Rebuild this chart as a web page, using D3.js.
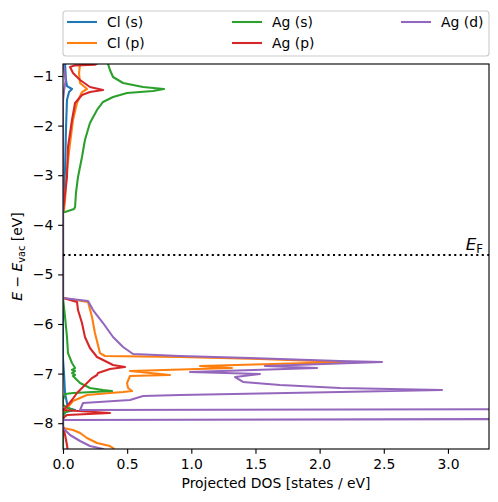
<!DOCTYPE html>
<html><head><meta charset="utf-8">
<script src="https://cdn.jsdelivr.net/npm/d3@7"></script>
<style>body{margin:0;background:#fff} text{font-family:"DejaVu Sans",sans-serif;fill:#000}</style>
</head><body><svg id="c" width="498" height="502"></svg>
<script>
// Each series: [dos, energy] pairs in drawing order
const clS = [[0.016,-0.70],[0.016,-0.758],[0.023,-1.081],[0.031,-1.202],[0.070,-1.262],[0.047,-1.323],[0.031,-1.484],[0.023,-2.089],[0.016,-2.895],[0.008,-3.601],[0,-3.742],
  [0,-5.48],[0,-6.7],[0.008,-7.0],[0.016,-7.4],[0.039,-7.694],[0.094,-7.734],[0.016,-7.774],[0,-7.935],[0,-8.6]];
const clP = [[0.14,-0.70],[0.133,-0.758],[0.125,-0.940],[0.133,-1.141],[0.187,-1.262],[0.148,-1.323],[0.109,-1.544],[0.078,-1.887],[0.055,-2.351],[0.031,-2.895],[0.016,-3.500],[0.008,-3.702],[0,-3.742],
  [0,-5.476],[0.195,-5.556],[0.226,-5.859],[0.249,-6.181],[0.288,-6.585],[0.327,-6.645],[0.912,-6.665],[1.535,-6.706],[2.198,-6.766],[1.068,-6.847],[1.317,-6.887],[0.522,-6.948],[0.834,-7.028],[0.522,-7.048],[0.499,-7.190],[0.507,-7.290],[0.538,-7.351],[0.468,-7.371],[0.366,-7.391],[0.187,-7.431],[0.078,-7.552],[0.031,-7.694],[0.008,-7.754],[0,-7.935],[0,-8.097],[0.078,-8.137],[0.133,-8.198],[0.187,-8.298],[0.265,-8.399],[0.366,-8.460],[0.390,-8.500],[0.42,-8.6]];
const agS = [[0.345,-0.70],[0.351,-0.758],[0.366,-0.879],[0.390,-1.020],[0.468,-1.141],[0.624,-1.222],[0.787,-1.262],[0.701,-1.302],[0.499,-1.343],[0.390,-1.423],[0.312,-1.524],[0.265,-1.685],[0.210,-1.948],[0.171,-2.290],[0.148,-2.633],[0.117,-3.036],[0.101,-3.359],[0.094,-3.641],[0.086,-3.681],[0.016,-3.742],[0,-3.742],
  [0,-5.476],[0.016,-5.859],[0.031,-6.262],[0.039,-6.585],[0.070,-6.786],[0.094,-6.887],[0.070,-6.927],[0.094,-6.948],[0.070,-6.988],[0.094,-7.028],[0.078,-7.048],[0.133,-7.190],[0.210,-7.290],[0.312,-7.331],[0.382,-7.351],[0.234,-7.371],[0.078,-7.391],[0.016,-7.411],[0,-7.532],[0,-7.633],[0.039,-7.694],[0.078,-7.734],[0.016,-7.774],[0,-7.855],[0,-8.6]];
const agP = [[0.30,-0.70],[0.25,-0.77],[0.094,-0.785],[0.055,-0.819],[0.078,-0.940],[0.133,-1.081],[0.210,-1.222],[0.312,-1.282],[0.210,-1.323],[0.148,-1.383],[0.094,-1.544],[0.070,-1.887],[0.039,-2.431],[0.031,-3.036],[0.008,-3.560],[0,-3.742],
  [0,-5.476],[0.109,-5.556],[0.117,-5.718],[0.148,-5.980],[0.171,-6.262],[0.210,-6.484],[0.265,-6.665],[0.312,-6.726],[0.390,-6.827],[0.483,-6.867],[0.366,-6.907],[0.273,-6.988],[0.265,-7.028],[0.226,-7.089],[0.187,-7.190],[0.148,-7.290],[0.109,-7.391],[0.070,-7.532],[0.039,-7.633],[0.016,-7.694],[0,-7.734],[0.366,-7.794],[0.031,-7.835],[0,-7.9],[0,-8.05],[0.016,-8.238],[0.031,-8.440],[0.039,-8.6]];
const agD = [[0,-0.70],[0.008,-0.85],[0.02,-1.1],[0.008,-1.3],[0,-1.5],
  [0,-5.476],[0.195,-5.536],[0.234,-5.718],[0.312,-5.980],[0.390,-6.262],[0.468,-6.464],[0.546,-6.605],[0.912,-6.645],[1.458,-6.685],[2.159,-6.746],[2.486,-6.766],[1.574,-6.847],[1.980,-6.887],[0.990,-6.968],[1.535,-7.008],[1.341,-7.069],[1.403,-7.169],[1.691,-7.230],[2.159,-7.290],[2.954,-7.331],[2.159,-7.371],[0.912,-7.431],[0.624,-7.452],[0.522,-7.532],[0.156,-7.593],[0.133,-7.734],[4.0,-7.714],[4.0,-7.915],[0,-7.935],[0,-8.097],[0.055,-8.238],[0.133,-8.359],[0.210,-8.460],[0.312,-8.520],[0.35,-8.6]];

const seriesNames = ["Cl (s)","Cl (p)","Ag (s)","Ag (p)","Ag (d)"];
const seriesData = [clS, clP, agS, agP, agD];
const colors = ["#1f77b4","#ff7f0e","#2ca02c","#d62728","#9467bd"];
const xTicks = [0,0.5,1,1.5,2,2.5,3];
const yTicks = [-8,-7,-6,-5,-4,-3,-2,-1];
const fermiLevel = -4.61;
const xDomain = [0, 3.32];
const yDomain = [-8.52, -0.758];

const L=63, R=489, T=64, B=449;
const LW = 2.08, SW = 1.11, TL = 4.86;
const svg = d3.select("#c");
const x = d3.scaleLinear().domain(xDomain).range([L,R]);
const y = d3.scaleLinear().domain(yDomain).range([B,T]);

svg.append("defs").append("clipPath").attr("id","clip")
  .append("rect").attr("x",L).attr("y",T).attr("width",R-L).attr("height",B-T);

const line = d3.line().x(d=>x(d[0])).y(d=>y(d[1]));
const g = svg.append("g").attr("clip-path","url(#clip)");
seriesData.forEach((s,i)=>{
  g.append("path").attr("d",line(s)).attr("fill","none").attr("stroke",colors[i])
   .attr("stroke-width",LW).attr("stroke-linejoin","round");
});
g.append("line").attr("x1",L).attr("x2",R).attr("y1",y(fermiLevel)).attr("y2",y(fermiLevel))
  .attr("stroke","#000").attr("stroke-width",LW).attr("stroke-dasharray","2.08,3.43");

const minus = s => s.replace("-","\u2212");
const xAxis = svg.append("g").attr("transform",`translate(0,${B})`)
  .call(d3.axisBottom(x).tickValues(xTicks).tickFormat(d=>minus(d3.format(".1f")(d))).tickSize(TL).tickPadding(4.86));
const yAxis = svg.append("g").attr("transform",`translate(${L},0)`)
  .call(d3.axisLeft(y).tickValues(yTicks).tickFormat(d=>minus(String(d))).tickSize(TL).tickPadding(4.86));
[xAxis,yAxis].forEach(a=>{
  a.select(".domain").remove();
  a.selectAll(".tick line").attr("stroke","#000").attr("stroke-width",SW);
  a.selectAll(".tick text").attr("font-size","13.9px").attr("font-family","DejaVu Sans").attr("fill","#000");
});
svg.append("rect").attr("x",L).attr("y",T).attr("width",R-L).attr("height",B-T)
  .attr("fill","none").attr("stroke","#000").attr("stroke-width",SW);

// Fermi label
const ef = svg.append("text").attr("x",483).attr("y",250).attr("text-anchor","end").attr("font-size","16.7px");
ef.append("tspan").attr("font-style","italic").text("E");
ef.append("tspan").attr("font-size","11.7px").attr("dy",3).text("F");

// axis labels
svg.append("text").attr("x",(L+R)/2).attr("y",488).attr("text-anchor","middle").attr("font-size","13.9px")
  .text("Projected DOS [states / eV]");
const yl = svg.append("text").attr("transform",`translate(22,${(T+B)/2}) rotate(-90)`).attr("text-anchor","middle").attr("font-size","13.9px");
yl.append("tspan").attr("font-style","italic").text("E");
yl.append("tspan").text(" \u2212 ");
yl.append("tspan").attr("font-style","italic").text("E");
yl.append("tspan").attr("font-size","9.7px").attr("dy",3).text("vac");
yl.append("tspan").attr("dy",-3).text(" [eV]");

// legend
svg.append("rect").attr("x",L).attr("y",11).attr("width",R-L).attr("height",45).attr("rx",3)
  .attr("fill","#fff").attr("fill-opacity",0.8).attr("stroke","#cccccc").attr("stroke-width",SW);
const colX = [67,232,401];
const rowY = [22,43];
seriesNames.forEach((n,i)=>{
  const c = Math.floor(i/2), r = i%2;
  svg.append("line").attr("x1",colX[c]).attr("x2",colX[c]+30).attr("y1",rowY[r]).attr("y2",rowY[r])
    .attr("stroke",colors[i]).attr("stroke-width",LW);
  svg.append("text").attr("x",colX[c]+40).attr("y",rowY[r]+5).attr("font-size","13.9px").text(n);
});
</script></body></html>
